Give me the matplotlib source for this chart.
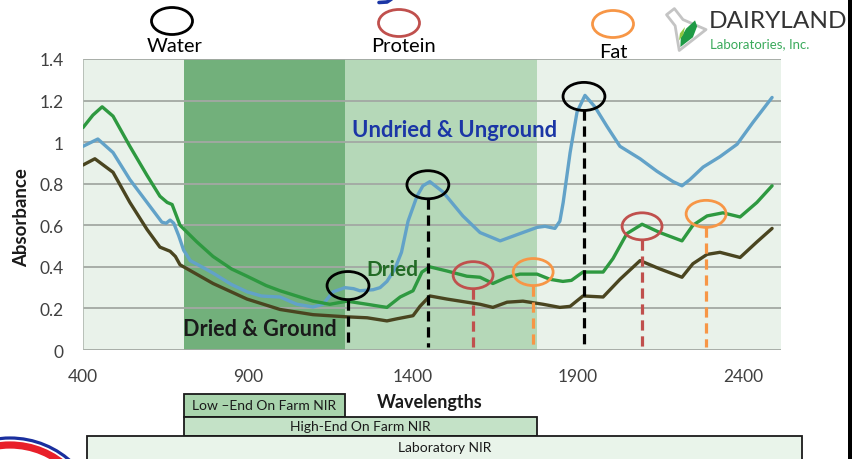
import matplotlib
matplotlib.use('Agg')
import matplotlib.pyplot as plt
from matplotlib.patches import Ellipse, Rectangle, Polygon
from matplotlib.transforms import blended_transform_factory
import numpy as np

plt.rcParams['font.family'] = ['Lato', 'DejaVu Sans']

# ---------------- data ----------------
undried_wl = [400, 445, 491, 542, 594, 639, 652, 664, 675, 690, 705, 725, 760, 794, 850, 897,
              940, 958, 997, 1048, 1097, 1127, 1158, 1194, 1220, 1239, 1279, 1300, 1321, 1345,
              1365, 1385, 1412, 1430, 1451, 1491, 1551, 1603, 1664, 1724, 1776, 1800, 1830,
              1845, 1855, 1876, 1897, 1921, 1951, 1988, 2027, 2088, 2139, 2188, 2215, 2239,
              2279, 2330, 2382, 2430, 2488]
undried_abs = [0.98, 1.015, 0.95, 0.82, 0.71, 0.615, 0.61, 0.625, 0.61, 0.55, 0.48, 0.43, 0.40,
               0.37, 0.315, 0.28, 0.26, 0.258, 0.255, 0.22, 0.207, 0.22, 0.28, 0.30, 0.295,
               0.285, 0.29, 0.30, 0.33, 0.39, 0.47, 0.62, 0.74, 0.79, 0.81, 0.76, 0.645, 0.565,
               0.525, 0.56, 0.59, 0.595, 0.585, 0.62, 0.71, 0.95, 1.145, 1.225, 1.17, 1.075,
               0.98, 0.92, 0.86, 0.81, 0.79, 0.82, 0.88, 0.93, 0.99, 1.095, 1.215]

dried_wl = [400, 430, 458, 491, 542, 594, 633, 655, 670, 694, 745, 794, 850, 897, 955, 997, 1097,
            1148, 1200, 1261, 1300, 1321, 1361, 1400, 1427, 1451, 1503, 1563, 1603, 1642, 1685,
            1724, 1776, 1815, 1854, 1880, 1915, 1976, 2006, 2048, 2094, 2148, 2215, 2248, 2291,
            2339, 2391, 2442, 2488]
dried_abs = [1.07, 1.13, 1.17, 1.125, 0.98, 0.84, 0.74, 0.71, 0.70, 0.60, 0.52, 0.45, 0.39,
             0.355, 0.31, 0.285, 0.235, 0.22, 0.235, 0.22, 0.21, 0.205, 0.255, 0.285, 0.375,
             0.40, 0.38, 0.355, 0.35, 0.32, 0.35, 0.365, 0.365, 0.34, 0.33, 0.335, 0.375, 0.375,
             0.44, 0.56, 0.605, 0.565, 0.525, 0.60, 0.645, 0.66, 0.64, 0.71, 0.79]

ground_wl = [400, 436, 491, 542, 594, 633, 664, 680, 694, 794, 897, 997, 1097, 1194, 1261, 1321,
             1351, 1400, 1421, 1451, 1503, 1563, 1603, 1642, 1685, 1733, 1794, 1845, 1876, 1915,
             1976, 2027, 2088, 2148, 2215, 2248, 2291, 2330, 2391, 2442, 2488]
ground_abs = [0.89, 0.92, 0.855, 0.71, 0.58, 0.495, 0.475, 0.45, 0.41, 0.32, 0.245, 0.195, 0.17,
              0.16, 0.155, 0.14, 0.15, 0.165, 0.21, 0.26, 0.245, 0.23, 0.22, 0.205, 0.23, 0.235,
              0.22, 0.205, 0.21, 0.26, 0.255, 0.34, 0.43, 0.39, 0.35, 0.415, 0.46, 0.47, 0.445,
              0.52, 0.585]

# absorption markers: (wavelength, absorbance at circle, kind)
marker_wl = [1203, 1445, 1918, 1582, 1764, 2094, 2288]
marker_abs = [0.31, 0.795, 1.22, 0.36, 0.375, 0.595, 0.655]
marker_kind = ['Water', 'Water', 'Water', 'Protein', 'Fat', 'Protein', 'Fat']

yticks = [0, 0.2, 0.4, 0.6, 0.8, 1.0, 1.2, 1.4]
ytick_labels = ['0', '0.2', '0.4', '0.6', '0.8', '1', '1.2', '1.4']
xticks = [400, 900, 1400, 1900, 2400]

low_end_range = (705, 1195)
high_end_range = (705, 1775)
lab_range = (412, 2580)
nir_names = ['Low \u2013End On Farm NIR', 'High-End On Farm NIR', 'Laboratory NIR']

# ---------------- styles ----------------
C_BLUE = '#62A2C8'
C_GREEN = '#2E9940'
C_DARK = '#4A4520'
C_RED = '#C0504D'
C_ORANGE = '#F79646'
kind_color = {'Water': 'black', 'Protein': C_RED, 'Fat': C_ORANGE}

W, H = 853, 460
fig = plt.figure(figsize=(W / 100, H / 100), dpi=100)
fig.patch.set_facecolor('white')

ax = fig.add_axes([83 / W, 1 - 351 / H, (781 - 83) / W, (351 - 60) / H])
ax.set_xlim(400, 2515)
ax.set_ylim(0, 1.4)
ax.set_facecolor('#E9F2EA')
ax.axvspan(*low_end_range, color='#72B07B', lw=0, zorder=0)
ax.axvspan(low_end_range[1], high_end_range[1], color='#B5D8B8', lw=0, zorder=0)
for yv in yticks:
    ax.axhline(yv, color='#A3A8A3', lw=1.3, zorder=1)
for s in ax.spines.values():
    s.set_visible(False)
ax.axvline(400, color='#B0B8B0', lw=1.2, zorder=1)

ax.plot(undried_wl, undried_abs, color=C_BLUE, lw=2.4, zorder=3, solid_joinstyle='round', solid_capstyle='round')
ax.plot(dried_wl, dried_abs, color=C_GREEN, lw=2.4, zorder=4, solid_joinstyle='round', solid_capstyle='round')
ax.plot(ground_wl, ground_abs, color=C_DARK, lw=2.4, zorder=4, solid_joinstyle='round', solid_capstyle='round')

for wl, ab, kind in zip(marker_wl, marker_abs, marker_kind):
    col = kind_color[kind]
    w = 127 if kind == 'Water' else 121
    h = 0.135 if kind == 'Water' else 0.13
    ax.add_patch(Ellipse((wl, ab), w, h, fill=False, ec=col, lw=2.0, zorder=6))
    ax.plot([wl, wl], [ab - h / 2, 0.015], color=col, lw=2.3, ls=(0, (3.2, 1.8)), zorder=5)

ax.set_yticks(yticks)
ax.set_yticklabels(ytick_labels)
ax.set_xticks(xticks)
ax.tick_params(length=0, labelsize=12.5, labelcolor='#404040')
ax.tick_params(axis='y', pad=14)
ax.tick_params(axis='x', pad=13)

# NIR range bars below the axis (x in data, y in figure)
btr = blended_transform_factory(ax.transData, fig.transFigure)
bars = [(low_end_range, 395, 418, '#A9D4AD'),
        (high_end_range, 418, 437, '#C4E2C7'),
        (lab_range, 437, 470, '#E9F4EA')]
for (rng, top, bot, fc), name in zip(bars, nir_names):
    ax.add_patch(Rectangle((rng[0], 1 - bot / H), rng[1] - rng[0], (bot - top) / H,
                           transform=btr, fc=fc, ec='#1A1A1A', lw=1.3, clip_on=False, zorder=2))
    ax.text((rng[0] + rng[1]) / 2, 1 - ((top + min(bot, 460)) / 2) / H, name, transform=btr,
            ha='center', va='center', fontsize=10, color='#1A1A1A', clip_on=False)

# ---------------- overlay (pixel coordinates) ----------------
ov = fig.add_axes([0, 0, 1, 1], zorder=10)
ov.set_xlim(0, W)
ov.set_ylim(H, 0)
ov.axis('off')
ov.patch.set_alpha(0)

ov.text(22, 218, 'Absorbance', rotation=90, ha='center', va='center', fontsize=13.4,
        fontweight='bold', color='#1A1A1A')
ov.text(430, 403, 'Wavelengths', ha='center', va='center', fontsize=13, fontweight='bold', color='#1A1A1A')
ov.text(352, 131, 'Undried & Unground', ha='left', va='center', fontsize=15.8, fontweight='bold', color='#1B36A6')
ov.text(366, 270, 'Dried', ha='left', va='center', fontsize=15, fontweight='bold', color='#236B26')
ov.text(183, 330, 'Dried & Ground', ha='left', va='center', fontsize=15.6, fontweight='bold', color='#1A1A1A')

# legend circles at top
legend_items = [('Water', 172, 22, 'black', 175, 47), ('Protein', 399, 24, C_RED, 404, 47), ('Fat', 613, 25, C_ORANGE, 613, 52)]
for name, cx, cy, col, tx, ty in legend_items:
    ov.add_patch(Ellipse((cx, cy), 41, 27, fill=False, ec=col, lw=2.0))
    ov.text(tx, ty, name, ha='center', va='center', fontsize=14.5, color='black')

# fragment of the cut-off title at the top edge
ov.plot([393, 387, 379], [-1, 3, 3.5], color='#1B36A6', lw=2.6, solid_capstyle='round')

# Dairyland logo
ov.text(709, 22, 'DAIRYLAND', ha='left', va='center', fontsize=17.6, color='#333333')
ov.text(710, 44, 'Laboratories, Inc.', ha='left', va='center', fontsize=9.5, color='#3BAA5C')
ang = np.deg2rad(-38)
flask_local = np.array([[-5, -22], [5, -22], [5, -8], [17, 14], [-17, 14], [-5, -8]], float)
rot = np.array([[np.cos(ang), -np.sin(ang)], [np.sin(ang), np.cos(ang)]])
flask = flask_local @ rot.T + np.array([684, 30])
ov.add_patch(Polygon(flask, closed=True, fc='white', ec='#C4C4C4', lw=2.0, joinstyle='round'))
leaf_local = np.array([[-14, 12], [-8, 5], [2, 1], [14, 0], [12, 6], [2, 12]], float)
leaf = leaf_local @ rot.T + np.array([684, 30])
ov.add_patch(Polygon(leaf, closed=True, fc='#1E9A45', ec='none'))
leaf2_local = np.array([[-11, 6], [-6, 1], [2, -1], [-4, 4]], float)
leaf2 = leaf2_local @ rot.T + np.array([684, 30])
ov.add_patch(Polygon(leaf2, closed=True, fc='#8DC63F', ec='none'))

# bottom-left round logo fragment
ov.add_patch(Ellipse((10, 530), 182, 182, fill=False, ec='#1A2F9E', lw=2.3))
ov.add_patch(Ellipse((10, 530), 168, 168, fill=False, ec='#E8202A', lw=5.2))

# right border
ov.add_patch(Rectangle((848, 0), 6, H, fc='black', ec='none'))

fig.savefig('out.png', dpi=100, facecolor='white')
